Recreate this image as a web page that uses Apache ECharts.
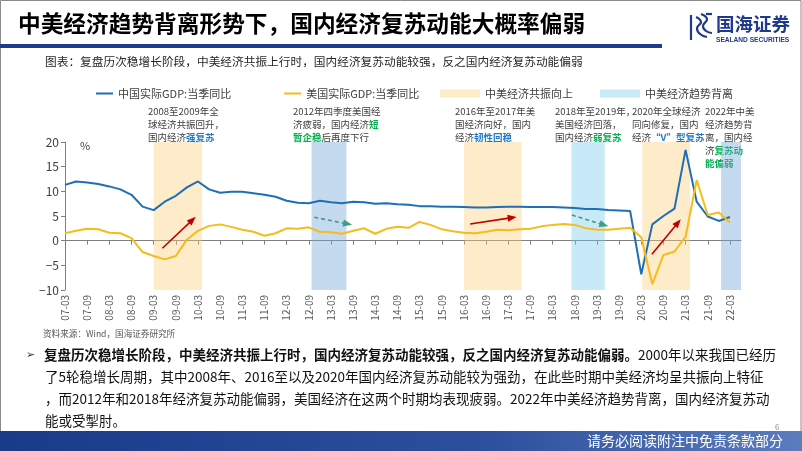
<!DOCTYPE html>
<html><head><meta charset="utf-8">
<script src="https://cdn.jsdelivr.net/npm/echarts/dist/echarts.min.js"></script>
<style>html,body{margin:0;padding:0;background:#fff}#c{width:802px;height:451px}</style>
</head><body><div id="c"></div>
<script>
// ---------- data ----------
const categories = ['07-03','07-06','07-09','07-12','08-03','08-06','08-09','08-12','09-03','09-06','09-09','09-12',
 '10-03','10-06','10-09','10-12','11-03','11-06','11-09','11-12','12-03','12-06','12-09','12-12',
 '13-03','13-06','13-09','13-12','14-03','14-06','14-09','14-12','15-03','15-06','15-09','15-12',
 '16-03','16-06','16-09','16-12','17-03','17-06','17-09','17-12','18-03','18-06','18-09','18-12',
 '19-03','19-06','19-09','19-12','20-03','20-06','20-09','20-12','21-03','21-06','21-09','21-12','22-03','22-06'];
const chinaGDP = [11.3,12.0,11.8,11.5,11.0,10.4,9.3,6.9,6.2,7.9,
 9.1,10.8,12.0,10.4,9.7,9.9,9.9,9.6,9.3,8.9,
 8.1,7.7,7.6,8.1,7.8,7.6,7.9,7.8,7.5,7.6,
 7.4,7.3,7.0,7.0,6.9,6.9,6.8,6.7,6.7,6.8,
 6.9,6.9,6.8,6.8,6.8,6.7,6.6,6.4,6.4,6.2,
 6.1,6.0,-6.8,3.3,5.0,6.5,18.4,7.9,4.9,4.0,
 4.8,null];
const usGDP = [1.5,2.0,2.4,2.3,1.6,1.5,0.5,-2.3,-3.1,-3.8,
 -3.1,0.2,2.0,3.0,3.3,2.8,2.2,1.8,1.0,1.5,
 2.5,2.4,2.7,1.8,1.7,1.4,2.0,2.5,1.4,2.4,
 2.8,2.6,3.8,3.2,2.3,1.9,1.6,1.5,1.8,2.2,
 2.1,2.3,2.4,2.9,3.2,3.4,3.2,2.5,2.2,2.2,
 2.4,2.6,0.7,-8.8,-2.9,-2.2,0.8,12.3,5.2,5.7,
 3.7,null];
const yTicks = [-10,-5,0,5,10,15,20];
// shaded periods, in category-index units
const bandStart = [8.0, 22.25, 36.0, 45.7, 52.1, 59.2];
const bandEnd   = [12.35, 25.4, 41.2, 48.7, 56.4, 61.4];
const bandKind  = ['up','apart','up','apart','up','apart'];
// trend arrows, [categoryIndex, value]
const arrowFrom = [[8.79,-1.54],[36.56,3.39],[52.96,-2.76],[22.49,4.75],[45.74,5.21],[59.29,7.38]];
const arrowTo   = [[11.5,4.2],[40.35,4.67],[55.31,3.65],[25.5,3.39],[48.63,3.18],[61.34,5.01]];
const arrowKind = ['up','up','up','down','down','down'];

// ---------- styles ----------
const FONT = '"Noto Sans CJK SC","Noto Sans",sans-serif';
const BLUE = '#1E6FB6', YEL = '#F6BC1B';
const UP_FILL = 'rgba(250,205,120,0.40)';
const APART_FILL = 'rgba(118,200,235,0.40)';
const APART_FILL2 = 'rgba(118,168,218,0.42)';
const apartFillByIndex = {1: APART_FILL2, 3: APART_FILL, 5: APART_FILL2};

const upAreas = [], apartAreas = [];
bandStart.forEach((s, i) => {
  if (bandKind[i] === 'up') upAreas.push([{xAxis: s}, {xAxis: bandEnd[i]}]);
  else apartAreas.push([{xAxis: s, itemStyle: {color: apartFillByIndex[i]}}, {xAxis: bandEnd[i]}]);
});
const arrowLines = arrowFrom.map((f, i) => {
  const up = arrowKind[i] === 'up';
  return [{coord: f, lineStyle: up ? {color:'#C00000', width:1.6, type:'solid'} : {color:'#3E9E80', width:1.6, type:[4,3]},
           itemStyle: {color: up ? '#C00000' : '#22B36B'}},
          {coord: arrowTo[i], itemStyle: {color: up ? '#C00000' : '#22B36B'}}];
});

function txt(x, y, text, opt) {
  return {type:'text', x:x, y:y, silent:true,
    style: Object.assign({text:text, fontFamily:FONT, fontSize:12, fill:'#222', textVerticalAlign:'middle', verticalAlign:'middle'}, opt||{})};
}
const annRich = {
  b: {fill:'#1F7BC8', fontWeight:'bold', fontSize:9.5, fontFamily:FONT, lineHeight:13},
  g: {fill:'#00B050', fontWeight:'bold', fontSize:9.5, fontFamily:FONT, lineHeight:13}
};
function ann(x, text) {
  return {type:'text', x:x, y:104.5, silent:true,
    style:{text:text, rich:annRich, fontFamily:FONT, fontSize:9.5, lineHeight:13, fill:'#404040', textVerticalAlign:'top', verticalAlign:'top'}};
}
const paraRich = {b:{fontWeight:'bold', fontSize:13.5, fontFamily:FONT, fill:'#111'}};
const NAVY = '#1F3A8A';
function seg(points) {
  return {type:'polyline', silent:true, shape:{points:points, smooth:0.5}, style:{fill:'none', stroke:NAVY, lineWidth:2.2}};
}

const chart = echarts.init(document.getElementById('c'), null, {renderer:'canvas'});
chart.setOption({
  animation: false,
  backgroundColor: '#fff',
  textStyle: {fontFamily: FONT},
  grid: {left:65, right:61, top:142, bottom:161, containLabel:false, outerBoundsMode:'none'},
  legend: [
    {data:['中国实际GDP:当季同比','美国实际GDP:当季同比'], left:91, top:83, icon:'rect', itemWidth:17, itemHeight:2,
     itemGap:53, textStyle:{fontSize:11, color:'#404040', fontFamily:FONT}, selectedMode:false},
    {data:['中美经济共振向上','中美经济趋势背离'], left:435, top:83, icon:'rect', itemWidth:40, itemHeight:8,
     itemGap:27, textStyle:{fontSize:11, color:'#404040', fontFamily:FONT}, selectedMode:false}
  ],
  xAxis: [
    {type:'category', data:categories, boundaryGap:false, gridIndex:0,
     axisLine:{onZero:true, lineStyle:{color:'#7F7F7F', width:1}},
     axisTick:{show:true, interval:1, length:4, lineStyle:{color:'#7F7F7F'}},
     axisLabel:{show:false}, splitLine:{show:false}},
    {type:'category', data:categories, boundaryGap:false, gridIndex:0, position:'bottom',
     axisLine:{show:false, onZero:false}, axisTick:{show:false}, splitLine:{show:false},
     axisLabel:{show:true, interval:1, rotate:90, fontSize:10, color:'#595959', margin:5, fontFamily:FONT, hideOverlap:false}},
    {type:'value', min:0, max:categories.length-1, show:false, gridIndex:0, position:'top', splitLine:{show:false}}
  ],
  yAxis: [{type:'value', min:yTicks[0], max:yTicks[yTicks.length-1], interval:5,
    axisLine:{show:true, lineStyle:{color:'#7F7F7F'}},
    axisTick:{show:true, length:4, lineStyle:{color:'#7F7F7F'}},
    splitLine:{show:false},
    axisLabel:{fontSize:12, color:'#404040', margin:6, fontFamily:FONT,
      formatter: v => v < 0 ? '\u2212' + Math.abs(v) : String(v)}}],
  series: [
    {name:'中国实际GDP:当季同比', type:'line', data:chinaGDP, xAxisIndex:0, symbol:'none', z:2,
     color:BLUE, lineStyle:{color:BLUE, width:2}},
    {name:'美国实际GDP:当季同比', type:'line', data:usGDP, xAxisIndex:0, symbol:'none', z:2,
     color:YEL, lineStyle:{color:YEL, width:2}},
    {name:'中美经济共振向上', type:'line', data:[], xAxisIndex:2, z:3, color:UP_FILL, clip:false,
     markArea:{silent:true, itemStyle:{color:UP_FILL}, data:upAreas}},
    {name:'中美经济趋势背离', type:'line', data:[], xAxisIndex:2, z:3, color:APART_FILL, clip:false,
     markArea:{silent:true, itemStyle:{color:APART_FILL}, data:apartAreas}},
    {name:'arrows', type:'line', data:[], xAxisIndex:2, z:4, clip:false,
     markLine:{silent:true, symbol:['none','triangle'], symbolSize:[7,9], label:{show:false}, animation:false, data:arrowLines}}
  ],
  graphic: [
    {type:'rect', silent:true, shape:{x:0.5, y:0.5, width:800.5, height:431}, style:{fill:'none', stroke:'#8A8A8A', lineWidth:1}},
    txt(18, 23, '中美经济趋势背离形势下，国内经济复苏动能大概率偏弱', {fontSize:22.7, fontWeight:'bold', fill:'#000'}),
    {type:'rect', silent:true, shape:{x:0, y:44, width:662, height:4}, style:{fill:'#1E3C8C'}},
    // logo
    seg([[691,15],[691,40]]),
    seg([[696,17],[701,22],[697,28],[700,34],[707,37]]),
    seg([[701,14],[707,19],[703,26],[706,31],[712,33]]),
    seg([[706,14],[712,14]]),
    txt(716, 24, '国海证券', {fontSize:18.5, fontWeight:'bold', fill:NAVY}),
    txt(716, 40, 'SEALAND SECURITIES', {fontSize:6.6, fontWeight:'bold', fill:NAVY, fontFamily:'"Liberation Sans",Arial,sans-serif'}),
    txt(45, 62, '图表：复盘历次稳增长阶段，中美经济共振上行时，国内经济复苏动能较强，反之国内经济复苏动能偏弱', {fontSize:11.7, fill:'#262626'}),
    // annotations
    ann(148, '2008至2009年全\n球经济共振回升，\n国内经济{b|强复苏}'),
    ann(293, '2012年四季度美国经\n济疲弱，国内经济{g|短}\n{g|暂企稳}后再度下行'),
    ann(455, '2016年至2017年美\n国经济向好，国内\n经济{b|韧性回稳}'),
    ann(555, '2018年至2019年，\n美国经济回落，\n国内经济{g|弱复苏}'),
    ann(632, '2020年全球经济\n同向修复，国内\n经济{b|“V”型复苏}'),
    ann(705, '2022年中美\n经济趋势背\n离，国内经\n济{g|复苏动}\n{g|能偏弱}'),
    txt(80, 146, '%', {fontSize:11, fill:'#404040'}),
    txt(43, 334, '资料来源：Wind，国海证券研究所', {fontSize:8.6, fill:'#555'}),
    txt(26, 355, '➢', {fontSize:11, fill:'#333', fontFamily:'"DejaVu Sans",sans-serif'}),
    txt(44, 355, '{b|复盘历次稳增长阶段，中美经济共振上行时，国内经济复苏动能较强，反之国内经济复苏动能偏弱。}2000年以来我国已经历', {fontSize:13.5, fill:'#111', rich:paraRich}),
    txt(45, 377, '了5轮稳增长周期，其中2008年、2016至以及2020年国内经济复苏动能较为强劲，在此些时期中美经济均呈共振向上特征', {fontSize:13.5, fill:'#111'}),
    txt(45, 399, '，而2012年和2018年经济复苏动能偏弱，美国经济在这两个时期均表现疲弱。2022年中美经济趋势背离，国内经济复苏动', {fontSize:13.5, fill:'#111'}),
    txt(45, 421, '能或受掣肘。', {fontSize:13.5, fill:'#111'}),
    txt(775, 427, '6', {fontSize:8, fill:'#888'}),
    {type:'rect', silent:true, shape:{x:0, y:431, width:802, height:20},
     style:{fill:{type:'linear', x:0, y:0, x2:1, y2:0, colorStops:[{offset:0,color:'#1A3A8A'},{offset:0.6,color:'#2C4F9E'},{offset:1,color:'#5B7DBE'}]}}},
    txt(783, 441, '请务必阅读附注中免责条款部分', {fontSize:14, fill:'#fff', textAlign:'right', align:'right'})
  ]
});
</script></body></html>
